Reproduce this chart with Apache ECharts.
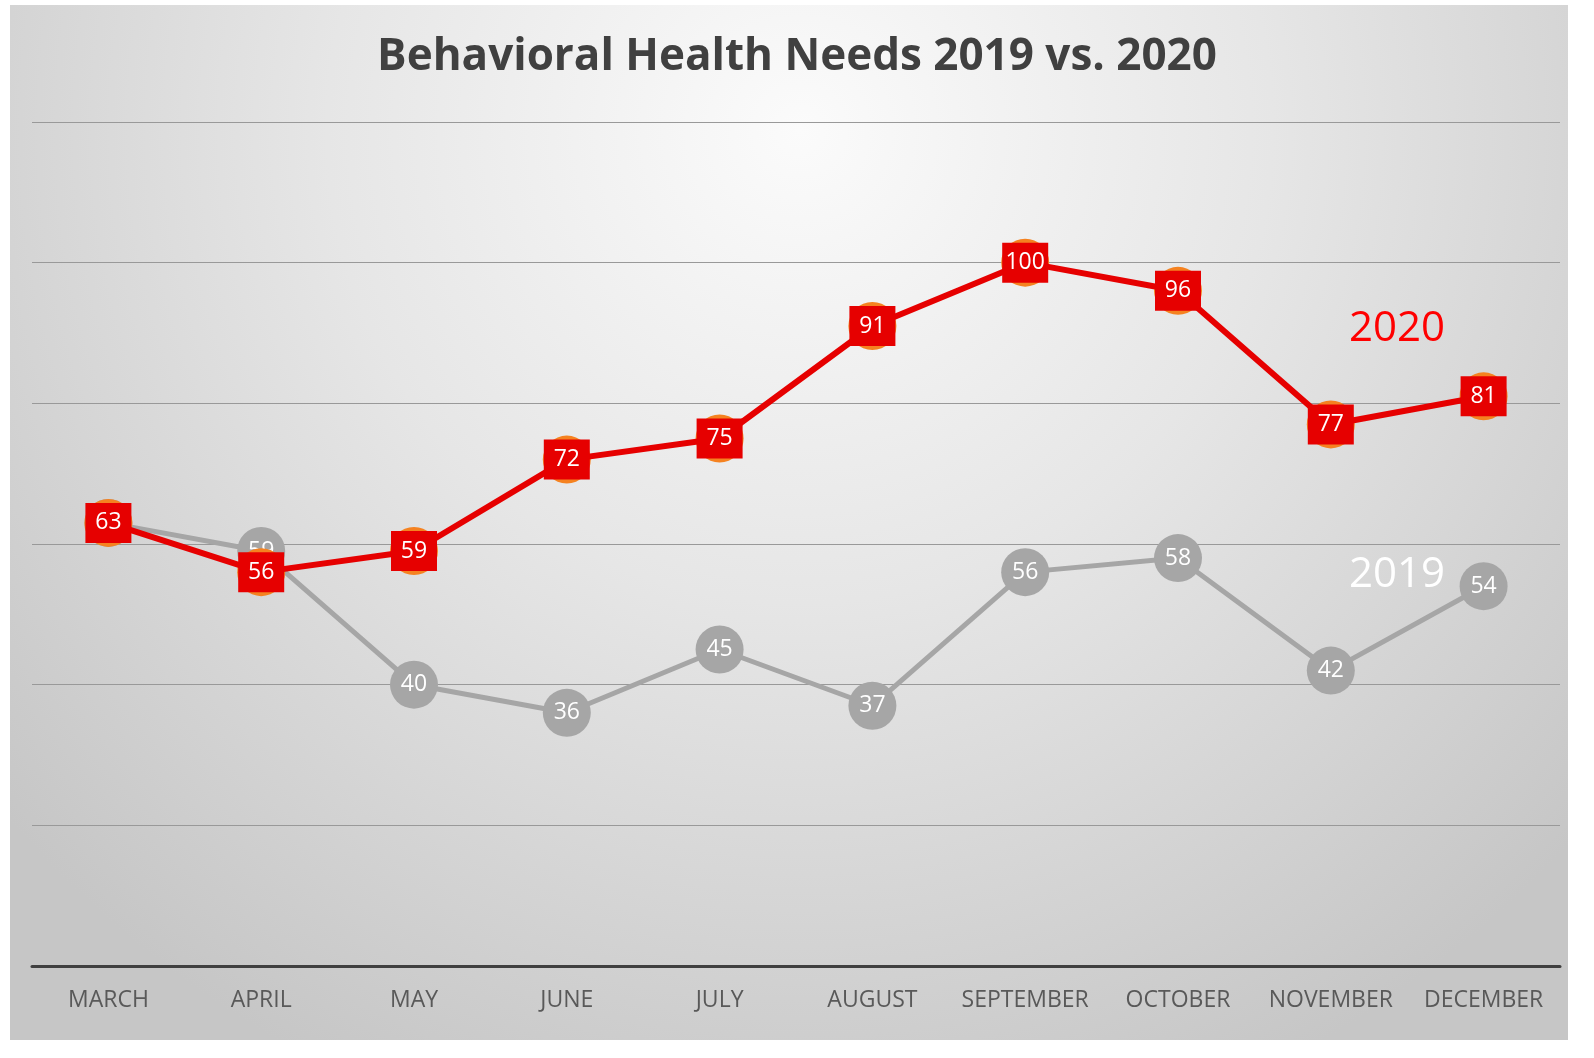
<!DOCTYPE html>
<html>
<head>
<meta charset="utf-8">
<script src="https://cdn.jsdelivr.net/npm/echarts@6/dist/echarts.min.js"></script>
<style>
html,body{margin:0;padding:0;background:#fff;}
#chart{width:1594px;height:1058px;}
</style>
</head>
<body>
<div id="chart"></div>
<script>
const months = ['MARCH','APRIL','MAY','JUNE','JULY','AUGUST','SEPTEMBER','OCTOBER','NOVEMBER','DECEMBER'];
const values2019 = [63, 59, 40, 36, 45, 37, 56, 58, 42, 54];
const values2020 = [63, 56, 59, 72, 75, 91, 100, 96, 77, 81];
const yTicks = [0, 20, 40, 60, 80, 100, 120];

const chart = echarts.init(document.getElementById('chart'));
const labelFont = {color:'#ffffff', fontSize:23, fontFamily:'Open Sans', fontWeight:'normal'};
chart.setOption({
  backgroundColor:'#ffffff',
  animation:false,
  title:{
    text:'Behavioral Health Needs 2019 vs. 2020',
    left:'center', top:30,
    textStyle:{fontFamily:'Open Sans', fontWeight:'bold', fontSize:44, color:'#404040'}
  },
  graphic:[
    {type:'rect', z:-100, silent:true,
     shape:{x:10, y:5, width:1558, height:1035},
     style:{fill:{type:'radial', x:800, y:130, r:1050, global:true,
       colorStops:[{offset:0,color:'#fbfbfb'},{offset:0.45,color:'#e6e6e6'},{offset:1,color:'#c6c6c6'}]}}},
    {type:'text', left:1349, top:308, z:10,
     style:{text:'2020', fill:'#ff0000', font:'42px "Open Sans"'}},
    {type:'text', left:1349, top:554, z:10,
     style:{text:'2019', fill:'#ffffff', font:'42px "Open Sans"'}}
  ],
  grid:{left:32, right:34, top:122, bottom:92},
  xAxis:{
    type:'category', data:months, boundaryGap:true,
    axisLine:{show:true, lineStyle:{color:'#404040', width:3}},
    axisTick:{show:false},
    axisLabel:{color:'#595959', fontSize:23, fontFamily:'Open Sans', margin:23, interval:0}
  },
  yAxis:{
    type:'value', min:yTicks[0], max:yTicks[yTicks.length-1], interval:20,
    axisLabel:{show:false}, axisLine:{show:false}, axisTick:{show:false},
    splitLine:{show:true, lineStyle:{color:'#999999', width:1}}
  },
  series:[
    {name:'2019', type:'line', data:values2019, z:2,
     symbol:'circle', symbolSize:48,
     lineStyle:{color:'#a6a6a6', width:5},
     itemStyle:{color:'#a6a6a6'},
     label:{show:true, position:'inside', ...labelFont}},
    {name:'2020 halo', type:'line', data:values2020, z:3,
     symbol:'circle', symbolSize:48,
     lineStyle:{width:0, opacity:0},
     itemStyle:{color:'#f58220'},
     label:{show:false}},
    {name:'2020', type:'line', data:values2020, z:4,
     symbol:'rect', symbolSize:[46,40],
     lineStyle:{color:'#e60000', width:6},
     itemStyle:{color:'#e60000'},
     label:{show:true, position:'inside', ...labelFont}}
  ]
});
</script>
</body>
</html>
